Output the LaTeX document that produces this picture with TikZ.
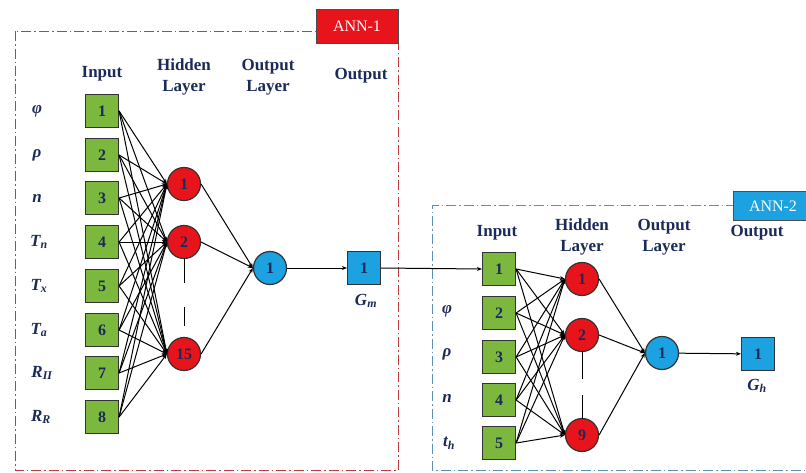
\documentclass[tikz,border=0pt]{standalone}
\usepackage{fontspec}
\setmainfont{Liberation Serif}
\usetikzlibrary{arrows.meta}
\definecolor{navy}{HTML}{1B2A57}
\definecolor{inpgreen}{HTML}{7CB83E}
\definecolor{hidred}{HTML}{E8141C}
\definecolor{outblue}{HTML}{1CA2E0}
\definecolor{annred}{HTML}{C43A3E}
\definecolor{annblue}{HTML}{5E8FB5}

\begin{document}
\begin{tikzpicture}[x=1pt, y=-1pt,
  inp/.style={draw=black!80, line width=1.2pt, fill=inpgreen, minimum size=33pt,
              inner sep=0pt, font=\fontsize{16}{19}\selectfont\bfseries, text=navy},
  hid/.style={inp, circle, fill=hidred},
  outl/.style={inp, circle, fill=outblue},
  outb/.style={inp, fill=outblue},
  conn/.style={-{Stealth[length=5pt,width=4pt]}, line width=1pt},
  head/.style={font=\fontsize{17}{21}\selectfont\bfseries, text=navy, align=center},
  var/.style={font=\fontsize{17}{20}\selectfont\bfseries\itshape, text=navy},
  frame/.style={line width=0.9pt, dash pattern=on 10pt off 3pt on 1.5pt off 3pt},
  tag/.style={draw=black!70, line width=1pt, text=white, inner sep=0pt,
              font=\fontsize{16}{19}\selectfont},
]
\useasboundingbox (0,0) rectangle (806,472);

% ---- ANN-1 frame ----
\draw[frame, annred] (15,31) rectangle (398,470);
\node[tag, fill=hidred, minimum width=82pt, minimum height=34pt] (tag1) at (357,26) {ANN-1};

\node[head] (hin1)  at (102,74) {Input};
\node[head] (hhid1) at (184,77) {Hidden\\Layer};
\node[head] (hol1)  at (268,77) {Output\\Layer};
\node[head] (hout1) at (361,76) {Output};

% ---- ANN-1 inputs ----
\node[inp] (x1) at (102,111) {1};
\node[inp] (x2) at (102,155) {2};
\node[inp] (x3) at (102,198) {3};
\node[inp] (x4) at (102,242) {4};
\node[inp] (x5) at (102,286) {5};
\node[inp] (x6) at (102,330) {6};
\node[inp] (x7) at (102,373) {7};
\node[inp] (x8) at (102,417) {8};

\node[var] (v1) at (37,111) {φ};
\node[var] (v2) at (37,155) {ρ};
\node[var] (v3) at (37,198) {n};
\node[var] (v4) at (39,242) {T\textsubscript{n}};
\node[var] (v5) at (39,286) {T\textsubscript{x}};
\node[var] (v6) at (39,330) {T\textsubscript{a}};
\node[var] (v7) at (42,373) {R\textsubscript{II}};
\node[var] (v8) at (41,417) {R\textsubscript{R}};

% ---- ANN-1 hidden and output ----
\node[hid] (h1)  at (184,184) {1};
\node[hid] (h2)  at (184,242) {2};
\node[hid] (h15) at (184,354) {15};
\draw[line width=0.9pt] (184,258) -- (184,283) (184,307) -- (184,326);

\node[outl] (o1) at (270,268) {1};
\node[outb] (gm) at (364,268) {1};
\node[var] (lgm) at (366,301) {G\textsubscript{m}};

\foreach \i in {1,...,8}
  \foreach \j in {1,2,15}
    \draw[conn] (x\i.east) -- (h\j.west);
\foreach \j in {1,2,15}
  \draw[conn] (h\j.east) -- (o1.west);
\draw[conn] (o1) -- (gm);

% ---- ANN-2 frame ----
\draw[frame, annblue] (806,205) -- (432,205) -- (432,470) -- (806,470);
\node[tag, fill=outblue, minimum width=80pt, minimum height=29pt] (tag2) at (773,206) {ANN-2};

\node[head] (hin2)  at (497,233) {Input};
\node[head] (hhid2) at (582,237) {Hidden\\Layer};
\node[head] (hol2)  at (664,237) {Output\\Layer};
\node[head] (hout2) at (757,233) {Output};

% ---- ANN-2 inputs ----
\node[inp] (u1) at (499,269) {1};
\node[inp] (u2) at (499,313) {2};
\node[inp] (u3) at (499,357) {3};
\node[inp] (u4) at (499,400) {4};
\node[inp] (u5) at (499,443) {5};

\node[var] (w2) at (447,311) {φ};
\node[var] (w3) at (447,354) {ρ};
\node[var] (w4) at (447,398) {n};
\node[var] (w5) at (449,443) {t\textsubscript{h}};

\draw[conn] (gm.east) -- (u1.west);

% ---- ANN-2 hidden and output ----
\node[hid] (k1) at (582,279) {1};
\node[hid] (k2) at (582,335) {2};
\node[hid] (k9) at (582,435) {9};
\draw[line width=0.9pt] (582,351) -- (582,379) (582,395) -- (582,419);

\node[outl] (o2) at (662,353) {1};
\node[outb] (gh) at (758,354) {1};
\node[var] (lgh) at (757,386) {G\textsubscript{h}};

\foreach \i in {1,...,5}
  \foreach \j in {1,2,9}
    \draw[conn] (u\i.east) -- (k\j.west);
\foreach \j in {1,2,9}
  \draw[conn] (k\j.east) -- (o2.west);
\draw[conn] (o2) -- (gh);

\end{tikzpicture}
\end{document}
